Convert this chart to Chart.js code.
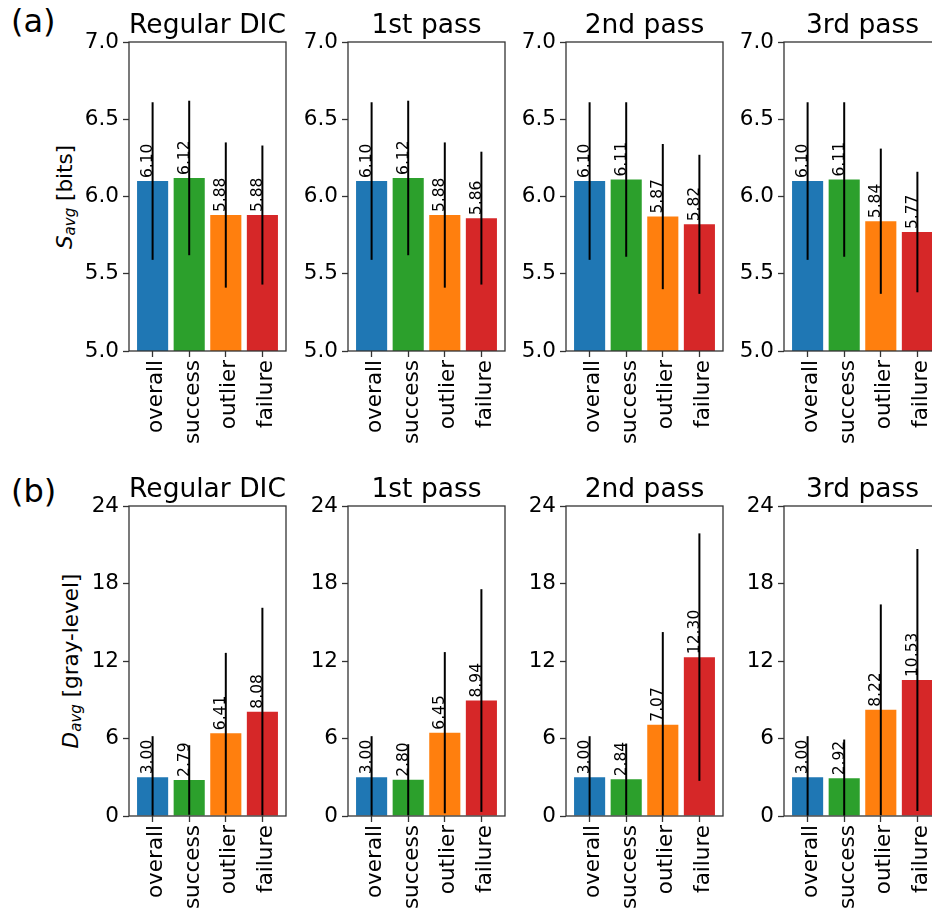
<!DOCTYPE html>
<html>
<head>
<meta charset="utf-8">
<script src="https://cdn.jsdelivr.net/npm/chart.js@4.4.0/dist/chart.umd.min.js"></script>
<style>
  html, body { margin: 0; padding: 0; background: #fff; overflow: hidden; }
  #fig { position: relative; width: 932px; height: 914px; overflow: hidden; }
  #fig canvas { position: absolute; }
  .tag { position: absolute; font-family: "DejaVu Sans"; font-size: 32px; line-height: 1; color: #000; }
  .ylab { position: absolute; font-family: "DejaVu Sans"; font-size: 21.5px; line-height: 1; color: #000;
          white-space: nowrap; transform: translate(-50%, -50%) rotate(-90deg); }
  .ylab sub { font-size: 70%; vertical-align: -0.25em; }
</style>
</head>
<body>
<div id="fig">
  <div class="tag" style="left:11px;top:5px">(a)</div>
  <div class="tag" style="left:11px;top:475px">(b)</div>
  <div class="ylab" style="left:66px;top:197px"><i>S</i><sub><i>avg</i></sub> [bits]</div>
  <div class="ylab" style="left:72px;top:661px"><i>D</i><sub><i>avg</i></sub> [gray-level]</div>
</div>

<script>
// === DONNEES ===
const categories = ["overall", "success", "outlier", "failure"];
const passes = ["Regular DIC", "1st pass", "2nd pass", "3rd pass"];
const barColors = ["#1f77b4", "#2ca02c", "#ff7f0e", "#d62728"];

// S_avg [bits] : moyenne et ecart-type par passe
const entropyRegular = [6.10, 6.12, 5.88, 5.88];
const entropyPass1   = [6.10, 6.12, 5.88, 5.86];
const entropyPass2   = [6.10, 6.11, 5.87, 5.82];
const entropyPass3   = [6.10, 6.11, 5.84, 5.77];
const entropyErrRegular = [0.51, 0.50, 0.47, 0.45];
const entropyErrPass1   = [0.51, 0.50, 0.47, 0.43];
const entropyErrPass2   = [0.51, 0.50, 0.47, 0.45];
const entropyErrPass3   = [0.51, 0.50, 0.47, 0.39];
const entropyTicks = [5.0, 5.5, 6.0, 6.5, 7.0];

// D_avg [gray-level]
const diffRegular = [3.00, 2.79, 6.41, 8.08];
const diffPass1   = [3.00, 2.80, 6.45, 8.94];
const diffPass2   = [3.00, 2.84, 7.07, 12.30];
const diffPass3   = [3.00, 2.92, 8.22, 10.53];
const diffErrRegular = [3.18, 2.69, 6.22, 8.04];
const diffErrPass1   = [3.18, 2.76, 6.24, 8.62];
const diffErrPass2   = [3.18, 2.77, 7.17, 9.58];
const diffErrPass3   = [3.18, 3.00, 8.16, 10.14];
const diffTicks = [0, 6, 12, 18, 24];

// === MISE EN PAGE ===
const AXIS_W = 64, TITLE_H = 42, XAXIS_H = 105, PLOT_W = 157, PAD_R = 4;
const plotLefts = [129, 348, 566, 784];
const rows = [
  { top: 42, height: 309, ticks: entropyTicks, decimals: 1,
    values: [entropyRegular, entropyPass1, entropyPass2, entropyPass3],
    errors: [entropyErrRegular, entropyErrPass1, entropyErrPass2, entropyErrPass3] },
  { top: 506, height: 310, ticks: diffTicks, decimals: 0,
    values: [diffRegular, diffPass1, diffPass2, diffPass3],
    errors: [diffErrRegular, diffErrPass1, diffErrPass2, diffErrPass3] }
];

Chart.defaults.font.family = "DejaVu Sans";
Chart.defaults.color = "#000";

// Cadre, titre, barres d'erreur et valeurs au-dessus des barres
const panelDecor = {
  id: "panelDecor",
  afterDatasetsDraw(chart, args, opts) {
    const { ctx, chartArea: a, scales: { x, y } } = chart;

    ctx.save();
    ctx.beginPath();
    ctx.rect(a.left, a.top, a.right - a.left, a.bottom - a.top);
    ctx.clip();
    ctx.strokeStyle = "#000";
    ctx.lineWidth = 2;
    opts.values.forEach((v, i) => {
      const px = x.getPixelForValue(i);
      ctx.beginPath();
      ctx.moveTo(px, y.getPixelForValue(v - opts.errors[i]));
      ctx.lineTo(px, y.getPixelForValue(v + opts.errors[i]));
      ctx.stroke();
    });
    ctx.restore();

    ctx.save();
    ctx.strokeStyle = "#333";
    ctx.lineWidth = 1.3;
    ctx.strokeRect(a.left, a.top, a.right - a.left, a.bottom - a.top);

    ctx.fillStyle = "#000";
    ctx.font = "26.5px 'DejaVu Sans'";
    ctx.textAlign = "center";
    ctx.textBaseline = "alphabetic";
    ctx.fillText(opts.title, (a.left + a.right) / 2, a.top - 9);

    ctx.font = "15.5px 'DejaVu Sans'";
    ctx.textAlign = "left";
    opts.values.forEach((v, i) => {
      ctx.save();
      ctx.translate(x.getPixelForValue(i) - 0.5, y.getPixelForValue(v) - 3);
      ctx.rotate(-Math.PI / 2);
      ctx.fillText(v.toFixed(2), 0, 0);
      ctx.restore();
    });
    ctx.restore();
  }
};

const fig = document.getElementById("fig");

rows.forEach((row, r) => {
  plotLefts.forEach((left, p) => {
    const canvas = document.createElement("canvas");
    canvas.width = AXIS_W + PLOT_W + PAD_R;
    canvas.height = TITLE_H + row.height + XAXIS_H;
    canvas.style.left = (left - AXIS_W) + "px";
    canvas.style.top = (row.top - TITLE_H) + "px";
    fig.appendChild(canvas);

    const vals = row.values[p];
    new Chart(canvas, {
      type: "bar",
      data: {
        datasets: [{
          data: vals.map((v, i) => ({ x: i, y: v })),
          backgroundColor: barColors,
          borderWidth: 0,
          categoryPercentage: 0.85,
          barPercentage: 1,
          clip: 0
        }]
      },
      options: {
        responsive: false,
        animation: false,
        devicePixelRatio: 1,
        layout: { padding: { top: TITLE_H, right: PAD_R, left: 0, bottom: 0 } },
        plugins: {
          legend: { display: false },
          tooltip: { enabled: false },
          panelDecor: { title: passes[p], values: vals, errors: row.errors[p] }
        },
        scales: {
          x: {
            type: "linear",
            offset: false,
            min: -0.645,
            max: 3.645,
            afterBuildTicks: s => { s.ticks = categories.map((c, i) => ({ value: i })); },
            afterFit: s => { s.height = XAXIS_H; s.paddingLeft = 0; s.paddingRight = 0; },
            ticks: {
              callback: v => categories[v],
              minRotation: 90, maxRotation: 90, autoSkip: false,
              font: { size: 21.5 }, padding: 3, labelOffset: 4
            },
            grid: { offset: false, drawOnChartArea: false, drawTicks: true, tickLength: 6, tickColor: "#333", tickWidth: 1.3 },
            border: { display: false }
          },
          y: {
            min: row.ticks[0],
            max: row.ticks[row.ticks.length - 1],
            afterBuildTicks: s => { s.ticks = row.ticks.map(v => ({ value: v })); },
            afterFit: s => { s.width = AXIS_W; s.paddingTop = 0; s.paddingBottom = 0; },
            ticks: {
              callback: v => v.toFixed(row.decimals),
              font: { size: 21.5 }, padding: 4
            },
            grid: { drawOnChartArea: false, drawTicks: true, tickLength: 6, tickColor: "#333", tickWidth: 1.3 },
            border: { display: false }
          }
        }
      },
      plugins: [panelDecor]
    });
  });
});
</script>
</body>
</html>
